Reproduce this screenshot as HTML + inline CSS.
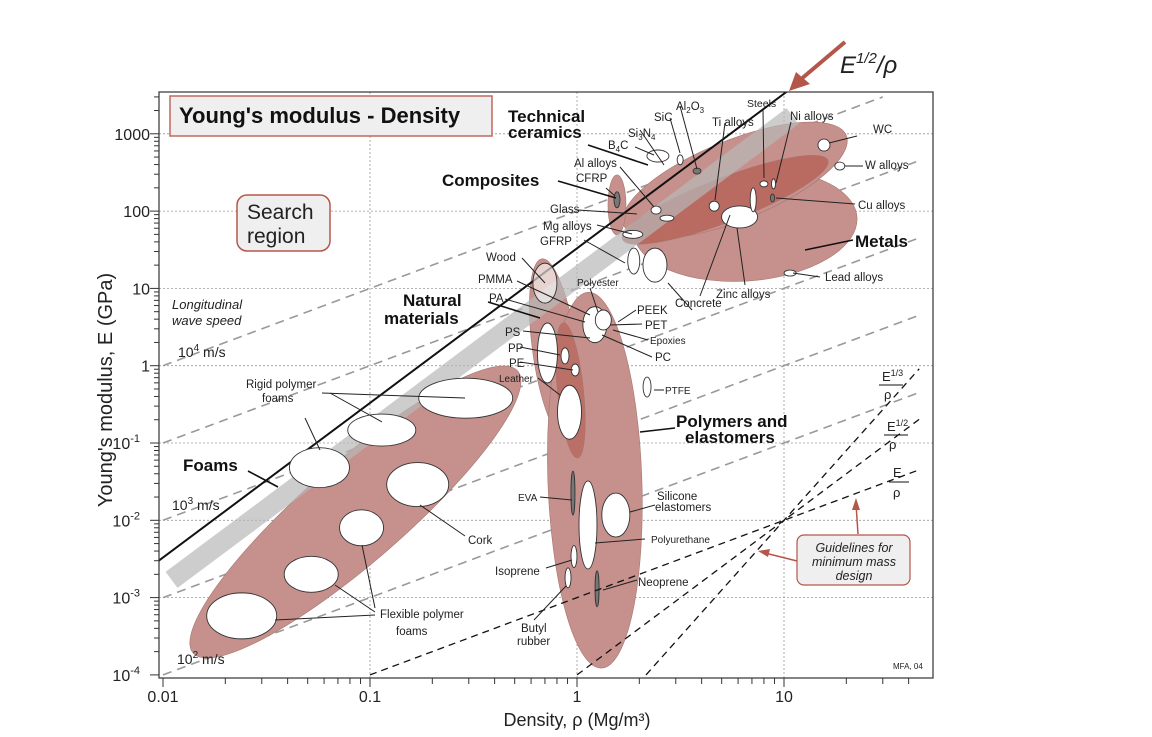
<!DOCTYPE html>
<html><head><meta charset="utf-8"><style>
html,body{margin:0;padding:0;background:#fff;width:1152px;height:737px;overflow:hidden;position:relative;}
svg{display:block;position:absolute;left:0;top:0;font-family:"Liberation Sans",sans-serif;}
</style></head><body>
<svg id="c" width="1152" height="737" viewBox="0 0 1152 737"></svg>
<script>
// ---- data ----
const gridRho=[0.1,1,10];
const gridE=[1000,100,10,1,0.1,0.01,0.001];
const yTickVals=[1000,100,10,1,0.1,0.01,0.001,0.0001];
const yTickLabels=["1000","100","10","1","10|-1","10|-2","10|-3","10|-4"];
const xTickVals=[0.01,0.1,1,10];
const xTickLabels=["0.01","0.1","1","10"];
const waveK=[100,10,1,0.1,0.01];        // E = k*rho guide lines
const guideExp=[1,2,3];                  // E^(1/n)/rho guidelines
const envName=["foams","natural","polymers","metals","ceramics","metals-core","composites","polymers-core"];
const envRho=[0.085,0.78,1.22,6.5,5.8,5.2,1.56,0.93];
const envE=[0.0128,1.6,0.033,66,250,140,120,0.48];
const matName=["rigid-foam-1","rigid-foam-2","rigid-foam-3","cork","flexible-foam-1","flexible-foam-2","flexible-foam-3","wood","ps","pp","pe","leather","polymer-cluster","peek-pet","ptfe","eva","polyurethane","silicone","isoprene","butyl","neoprene","wc","w-alloys","ti-alloys","zinc-alloys","steels","ni-alloys","cu-alloys","al-tall","lead-alloys","sic","al2o3","b4c","al-alloys-1","al-alloys-2","mg-alloys","gfrp","concrete","cfrp"];
const matRho=[0.29,0.114,0.057,0.17,0.091,0.052,0.024,0.70,0.72,0.875,0.98,0.92,1.22,1.34,2.18,0.956,1.13,1.54,0.967,0.905,1.25,15.6,18.6,4.6,6.1,8.0,8.9,8.8,7.1,10.7,3.15,3.8,2.46,2.41,2.72,1.86,1.88,2.38,1.56];
const matE=[0.38,0.147,0.048,0.029,0.008,0.002,0.00058,11.7,1.46,1.34,0.88,0.25,3.4,3.9,0.53,0.0225,0.0087,0.0117,0.0034,0.0018,0.0013,716,383,116,84,225,225,148,140,15.8,460,330,516,103,81,50,22.6,20,140];
// ---- axes ----
const X=r=>577+207*Math.log10(r);
const Y=e=>365.7-77.3*Math.log10(e);
const L=159,R=933,T=92,B=678;
const svg=document.getElementById('c');
const NS="http://www.w3.org/2000/svg";
function mk(tag,at,parent){const el=document.createElementNS(NS,tag);for(const k in at)el.setAttribute(k,at[k]);(parent||svg).appendChild(el);return el;}
const defs=mk('defs',{});
const cp=mk('clipPath',{id:'clip'},defs);mk('rect',{x:L,y:T,width:R-L,height:B-T},cp);
const plot=mk('g',{'clip-path':'url(#clip)'});

gridRho.forEach(r=>{const l=mk('line',{x1:X(r),x2:X(r),y1:T,y2:B,stroke:'#999','stroke-dasharray':'2,2','stroke-width':0.8},plot);
});
gridE.forEach(e=>{const l=mk('line',{x1:L,x2:R,y1:Y(e),y2:Y(e),stroke:'#999','stroke-dasharray':'2,2','stroke-width':0.8},plot);
});
waveK.forEach(k=>{const r1=Math.min(45,3000/k);const l=mk('line',{x1:X(0.01),y1:Y(k*0.01),x2:X(r1),y2:Y(k*r1),stroke:'#999','stroke-dasharray':'9,6','stroke-width':1.6},plot);
});
const envStyle=[[215,50,-41,'#c6918c'],[22,92,-8,'#c6918c'],[47,188,-2,'#c6918c'],[112,56,-4,'#c6918c'],[120,40,-22,'#c6918c'],[110,22,-21,'#b96a61'],[9,30,0,'#c6918c'],[13,68,-6,'#bb7067']];
envName.forEach((n,i)=>{const s=envStyle[i];const cx=X(envRho[i]),cy=Y(envE[i]);
const e=mk('ellipse',{cx:cx,cy:cy,rx:s[0],ry:s[1],fill:s[3],stroke:'#a87570','stroke-width':0.6,transform:`rotate(${s[2]} ${cx} ${cy})`},plot);
});
const band=mk('line',{x1:X(0.011),y1:Y(14*0.011*0.011),x2:X(11),y2:Y(14*121),stroke:'#b8b8b8','stroke-width':20,opacity:0.7},plot);

const bl=mk('line',{x1:X(0.0095),y1:Y(33*0.0095*0.0095),x2:X(10.6),y2:Y(33*10.6*10.6),stroke:'#111','stroke-width':2},plot);

const matRx=[47,34,30,31,22,27,35,12,10,4,4,12,12,8,4,2,9,14,3,3,2,6,5,5,18,4,2,2,3,6,3,4,11,5,7,10,6,12,3];
const matRy=[20,16,20,22,18,18,23,20,30,8,6,27,18,10,10,22,44,22,11,10,18,6,4,5,11,3,5,4,12,3,5,3,6,4,3,4,13,17,8];
const dark=["eva","neoprene","cu-alloys","cfrp","al2o3"];
matName.forEach((n,i)=>{const e=mk('ellipse',{cx:X(matRho[i]),cy:Y(matE[i]),rx:matRx[i],ry:matRy[i],fill:dark.includes(n)?'#777':'#fff',stroke:'#333','stroke-width':0.9,'fill-opacity':n==='wood'?0.6:1},plot);
});
guideExp.forEach(n=>{const r0=10*Math.pow(0.01,1/n),r1=45;const l=mk('line',{x1:X(r0),y1:Y(0.01*Math.pow(r0/10,n)),x2:X(r1),y2:Y(0.01*Math.pow(r1/10,n)),stroke:'#111','stroke-dasharray':'7,5','stroke-width':1.3},plot);
});
const fr=mk('rect',{x:L,y:T,width:R-L,height:B-T,fill:'none',stroke:'#333','stroke-width':1.2});

for(let d=-2;d<2;d++)for(let m=1;m<10;m++){const r=m*Math.pow(10,d);if(r>45)break;const x=X(r);
mk('line',{x1:x,x2:x,y1:B,y2:B+(m===1?9:6),stroke:'#333','stroke-width':1});}
for(let d=-4;d<4;d++)for(let m=1;m<10;m++){const e=m*Math.pow(10,d);const y=Y(e);if(y<T)break;
mk('line',{x1:L,x2:L-(m===1?9:5),y1:y,y2:y,stroke:'#333','stroke-width':1});}
yTickVals.forEach((v,i)=>{const p=yTickLabels[i].split('|');const t=mk('text',{x:p[1]?140:150,y:Y(v)+6,'text-anchor':'end','font-size':16,fill:'#222'});t.textContent=p[0];
if(p[1]){const s=mk('tspan',{dy:-7,'font-size':11},t);s.textContent=p[1];}
});
xTickVals.forEach((v,i)=>{const t=mk('text',{x:X(v),y:702,'text-anchor':'middle','font-size':16,fill:'#222'});t.textContent=xTickLabels[i];
});
</script>
<svg width="1152" height="737" font-family="Liberation Sans, sans-serif" fill="#222">
<text x="112" y="390" font-size="20" text-anchor="middle" transform="rotate(-90 112 390)">Young's modulus, E (GPa)</text>
<text x="577" y="726" font-size="18" text-anchor="middle">Density, ρ  (Mg/m³)</text>
<g><rect x="170" y="96" width="322" height="40" fill="#efefef" stroke="#c0695e" stroke-width="1.5"/>
<text x="179" y="123" font-size="22" font-weight="bold" fill="#111">Young's modulus - Density</text></g>
<g><rect x="237" y="195" width="93" height="56" rx="10" fill="#efefef" stroke="#b5564a" stroke-width="1.5"/>
<text x="247" y="219" font-size="21">Search</text><text x="247" y="243" font-size="21">region</text></g>
<g><line x1="845" y1="42" x2="800" y2="80" stroke="#b5564a" stroke-width="4"/><polygon points="789,91 796,72 810,84" fill="#b5564a"/>
<text x="840" y="73" font-size="24" font-style="italic">E<tspan dy="-10" font-size="15">1/2</tspan><tspan dy="10">/ρ</tspan></text></g>
<g font-style="italic" font-size="13"><text x="172" y="309">Longitudinal</text><text x="172" y="325">wave speed</text></g>
<g font-size="14"><text x="178" y="357">10<tspan dy="-6" font-size="10">4</tspan><tspan dy="6"> m/s</tspan></text>
<text x="172" y="510">10<tspan dy="-6" font-size="10">3</tspan><tspan dy="6"> m/s</tspan></text>
<text x="177" y="664">10<tspan dy="-6" font-size="10">2</tspan><tspan dy="6"> m/s</tspan></text></g>
<g font-weight="bold" font-size="17" fill="#111">
<text x="508" y="122">Technical</text><text x="508" y="138">ceramics</text>
<text x="442" y="186">Composites</text>
<text x="403" y="306">Natural</text><text x="384" y="324">materials</text>
<text x="855" y="247">Metals</text>
<text x="676" y="427">Polymers and</text><text x="685" y="443">elastomers</text>
<text x="183" y="471">Foams</text></g>
<g stroke="#111" stroke-width="1.6" fill="none">
<path d="M558 181 L616 198"/><path d="M588 145 L648 165"/><path d="M488 302 L540 318"/><path d="M640 432 L675 428"/><path d="M805 250 L853 240"/><path d="M248 471 L278 487"/>
</g>
<g stroke="#222" stroke-width="1" fill="none">
<path d="M322 393 L465 398"/><path d="M305 418 L320 450"/><path d="M330 393 L382 422"/><path d="M465 536 L420 505"/><path d="M375 608 L362 545"/><path d="M375 612 L335 585"/><path d="M375 615 L275 620"/>
<path d="M522 258 L545 283"/><path d="M517 281 L590 315"/><path d="M505 299 L585 322"/><path d="M523 331 L590 338"/><path d="M520 347 L560 355"/><path d="M520 362 L573 370"/><path d="M538 378 L560 395"/>
<path d="M590 288 L598 312"/><path d="M618 322 L636 310"/><path d="M610 325 L642 324"/><path d="M613 330 L648 340"/><path d="M602 335 L652 357"/><path d="M654 390 L664 390"/>
<path d="M540 497 L572 500"/><path d="M655 505 L630 512"/><path d="M645 539 L595 543"/><path d="M546 568 L572 560"/><path d="M534 620 L566 586"/><path d="M637 580 L603 590"/>
<path d="M692 310 L668 283"/><path d="M745 285 L737 228"/><path d="M700 296 L730 215"/><path d="M820 277 L793 273"/><path d="M855 204 L776 198"/><path d="M863 166 L845 166"/><path d="M857 136 L829 143"/>
<path d="M791 122 L776 183"/><path d="M763 110 L764 178"/><path d="M725 123 L715 200"/><path d="M680 106 L697 169"/><path d="M670 118 L680 153"/><path d="M640 130 L664 165"/><path d="M635 147 L654 155"/>
<path d="M620 167 L654 207"/><path d="M606 188 L615 196"/><path d="M578 210 L637 214"/><path d="M597 225 L632 234"/><path d="M584 240 L625 263"/>
</g>
<g font-size="11.5">
<text x="246" y="388">Rigid polymer</text><text x="262" y="402">foams</text><text x="468" y="544">Cork</text>
<text x="380" y="618">Flexible polymer</text><text x="396" y="635">foams</text>
<text x="486" y="261">Wood</text><text x="478" y="283">PMMA</text><text x="489" y="302">PA</text>
<text x="505" y="336">PS</text><text x="508" y="352">PP</text><text x="509" y="367">PE</text><text x="499" y="382" font-size="10">Leather</text>
<text x="577" y="286" font-size="10">Polyester</text><text x="637" y="314">PEEK</text><text x="645" y="329">PET</text><text x="650" y="344" font-size="10">Epoxies</text><text x="655" y="361">PC</text>
<text x="665" y="394" font-size="10">PTFE</text><text x="518" y="501" font-size="10">EVA</text>
<text x="657" y="500">Silicone</text><text x="655" y="511">elastomers</text><text x="651" y="543" font-size="10">Polyurethane</text>
<text x="495" y="575">Isoprene</text><text x="638" y="586">Neoprene</text><text x="521" y="632">Butyl</text><text x="517" y="645">rubber</text>
<text x="675" y="307">Concrete</text><text x="716" y="298">Zinc alloys</text><text x="825" y="281">Lead alloys</text><text x="858" y="209">Cu alloys</text>
<text x="865" y="169">W alloys</text><text x="873" y="133">WC</text><text x="790" y="120">Ni alloys</text><text x="747" y="107" font-size="10.5">Steels</text>
<text x="712" y="126">Ti alloys</text><text x="676" y="110">Al<tspan font-size="8" dy="3">2</tspan><tspan dy="-3">O</tspan><tspan font-size="8" dy="3">3</tspan></text>
<text x="654" y="121">SiC</text><text x="628" y="137">Si<tspan font-size="8" dy="3">3</tspan><tspan dy="-3">N</tspan><tspan font-size="8" dy="3">4</tspan></text>
<text x="608" y="149">B<tspan font-size="8" dy="3">4</tspan><tspan dy="-3">C</tspan></text>
<text x="574" y="167">Al alloys</text><text x="576" y="182">CFRP</text><text x="550" y="213">Glass</text><text x="543" y="230">Mg alloys</text><text x="540" y="245">GFRP</text>
<text x="893" y="669" font-size="8">MFA, 04</text></g>
<g font-size="13">
<text x="882" y="381">E<tspan dy="-5" font-size="9">1/3</tspan></text><line x1="879" y1="385" x2="903" y2="385" stroke="#111"/><text x="884" y="399">ρ</text>
<text x="887" y="431">E<tspan dy="-5" font-size="9">1/2</tspan></text><line x1="884" y1="435" x2="908" y2="435" stroke="#111"/><text x="889" y="449">ρ</text>
<text x="893" y="477">E</text><line x1="889" y1="482" x2="909" y2="482" stroke="#111"/><text x="893" y="497">ρ</text></g>
<g>
<line x1="858" y1="534" x2="856" y2="504" stroke="#b5564a" stroke-width="1.5"/><polygon points="856,498 852,510 860,510" fill="#b5564a"/>
<line x1="797" y1="561" x2="765" y2="553" stroke="#b5564a" stroke-width="1.5"/><polygon points="758,551 770,549 768,557" fill="#b5564a"/>
<rect x="797" y="535" width="113" height="50" rx="7" fill="#efefef" stroke="#b5564a" stroke-width="1.2"/>
<g font-style="italic" font-size="12.5" text-anchor="middle"><text x="854" y="552">Guidelines for</text><text x="854" y="566">minimum mass</text><text x="854" y="580">design</text></g></g>
</svg>
</body></html>
